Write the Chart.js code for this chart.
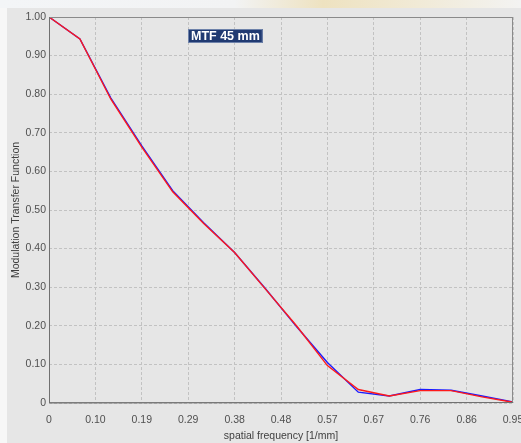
<!DOCTYPE html>
<html>
<head>
<meta charset="utf-8">
<script src="https://cdn.jsdelivr.net/npm/chart.js@4/dist/chart.umd.min.js"></script>
<style>
  html, body { margin: 0; padding: 0; }
  body { width: 521px; height: 443px; position: relative; overflow: hidden;
         background: linear-gradient(to right, #f3f5f7 0%, #f2f3f4 45%, #eee2c0 62%, #f1ead6 80%, #f3f3f2 100%); }
  #left { position: absolute; left: 0; top: 8px; width: 7px; height: 435px; background: #f7f7f7; }
  #wrap { position: absolute; left: 7px; top: 8px; width: 514px; height: 435px; background: #e6e6e6; }
</style>
</head>
<body>
<div id="left"></div>
<div id="wrap"><canvas id="c" width="514" height="435"></canvas></div>
<script>
const chartTitle = 'MTF 45 mm';
const xAxisTitle = 'spatial frequency [1/mm]';
const yAxisTitle = 'Modulation Transfer Function';
const frequencies = [0, 0.0633, 0.1267, 0.19, 0.2533, 0.3167, 0.38, 0.4433, 0.5067, 0.57, 0.6333, 0.6967, 0.76, 0.8233, 0.8867, 0.95];
const mtfRed  = [1.00, 0.943, 0.787, 0.663, 0.547, 0.465, 0.390, 0.295, 0.200, 0.097, 0.035, 0.018, 0.032, 0.032, 0.016, 0.002];
const mtfBlue = [1.00, 0.943, 0.790, 0.666, 0.550, 0.467, 0.390, 0.296, 0.198, 0.105, 0.028, 0.018, 0.035, 0.033, 0.018, 0.003];
const xTickValues = [0, 0.095, 0.19, 0.285, 0.38, 0.475, 0.57, 0.665, 0.76, 0.855, 0.95];
const xTickLabels = ['0', '0.10', '0.19', '0.29', '0.38', '0.48', '0.57', '0.67', '0.76', '0.86', '0.95'];
const yTickValues = [0, 0.1, 0.2, 0.3, 0.4, 0.5, 0.6, 0.7, 0.8, 0.9, 1.0];
const yTickLabels = ['0', '0.10', '0.20', '0.30', '0.40', '0.50', '0.60', '0.70', '0.80', '0.90', '1.00'];

const toPoints = (ys) => frequencies.map((x, i) => ({ x: x, y: ys[i] }));

const framePlugin = {
  id: 'frame',
  afterDraw(chart) {
    const { ctx, chartArea: a } = chart;
    ctx.save();
    ctx.strokeStyle = '#8a8a8a';
    ctx.lineWidth = 1;
    ctx.strokeRect(Math.round(a.left) + 0.5, Math.round(a.top) + 0.5, Math.round(a.right - a.left) - 1, Math.round(a.bottom - a.top) - 1);
    ctx.strokeStyle = '#707070';
    ctx.beginPath();
    ctx.moveTo(Math.round(a.left) + 0.5, a.top);
    ctx.lineTo(Math.round(a.left) + 0.5, a.bottom);
    ctx.lineTo(a.right, Math.round(a.bottom) - 0.5);
    ctx.stroke();
    // title box
    ctx.font = 'bold 12.5px "Liberation Sans", Arial, sans-serif';
    const tw = ctx.measureText(chartTitle).width;
    const bx = a.left + 139, by = a.top + 12, bh = 14;
    const bw = tw + 6;
    ctx.fillStyle = '#203a72';
    ctx.fillRect(bx, by, bw, bh);
    ctx.strokeStyle = '#6e82aa';
    ctx.strokeRect(bx + 0.5, by + 0.5, bw - 1, bh - 1);
    ctx.fillStyle = '#ffffff';
    ctx.textBaseline = 'middle';
    ctx.textAlign = 'left';
    ctx.fillText(chartTitle, bx + 3, by + bh / 2 + 0.5);
    ctx.restore();
  }
};

const tickFont = { family: '"Liberation Sans", Arial, sans-serif', size: 10.5 };

new Chart(document.getElementById('c'), {
  type: 'line',
  data: {
    datasets: [
      { label: 'red', data: toPoints(mtfRed), borderColor: '#ff1a1a', borderWidth: 1.4, pointRadius: 0, tension: 0, fill: false },
      { label: 'blue', data: toPoints(mtfBlue), borderColor: '#1a1aff', borderWidth: 1.4, pointRadius: 0, tension: 0, fill: false }
    ]
  },
  options: {
    responsive: false,
    animation: false,
    layout: { padding: { left: 0, top: 9, right: 8, bottom: 0 } },
    plugins: { legend: { display: false }, tooltip: { enabled: false }, title: { display: false } },
    scales: {
      x: {
        type: 'linear', min: 0, max: 0.95,
        afterBuildTicks: (s) => { s.ticks = xTickValues.map(v => ({ value: v })); },
        afterFit: (s) => { s.height = 40; s.paddingRight = 0; s.paddingLeft = 0; },
        ticks: { font: tickFont, color: '#505050', padding: 11, maxRotation: 0, autoSkip: false,
                 callback: (v, i) => xTickLabels[i] },
        grid: { color: '#c2c2c2', drawTicks: false },
        border: { display: false, dash: [3, 2] },
        title: { display: true, text: xAxisTitle, color: '#404040', font: { family: '"Liberation Sans", Arial, sans-serif', size: 10.5 }, padding: { top: 0, bottom: 1 } }
      },
      y: {
        type: 'linear', min: 0, max: 1,
        afterBuildTicks: (s) => { s.ticks = yTickValues.map(v => ({ value: v })); },
        afterFit: (s) => { s.width = 42; s.paddingTop = 0; s.paddingBottom = 0; },
        ticks: { font: tickFont, color: '#505050', padding: 3, autoSkip: false,
                 callback: (v, i) => yTickLabels[i] },
        grid: { color: '#c2c2c2', drawTicks: false },
        border: { display: false, dash: [3, 2] },
        title: { display: true, text: yAxisTitle, color: '#404040', font: { family: '"Liberation Sans", Arial, sans-serif', size: 10.5 }, padding: { top: 3, bottom: 0 } }
      }
    }
  },
  plugins: [framePlugin]
});
</script>
</body>
</html>
